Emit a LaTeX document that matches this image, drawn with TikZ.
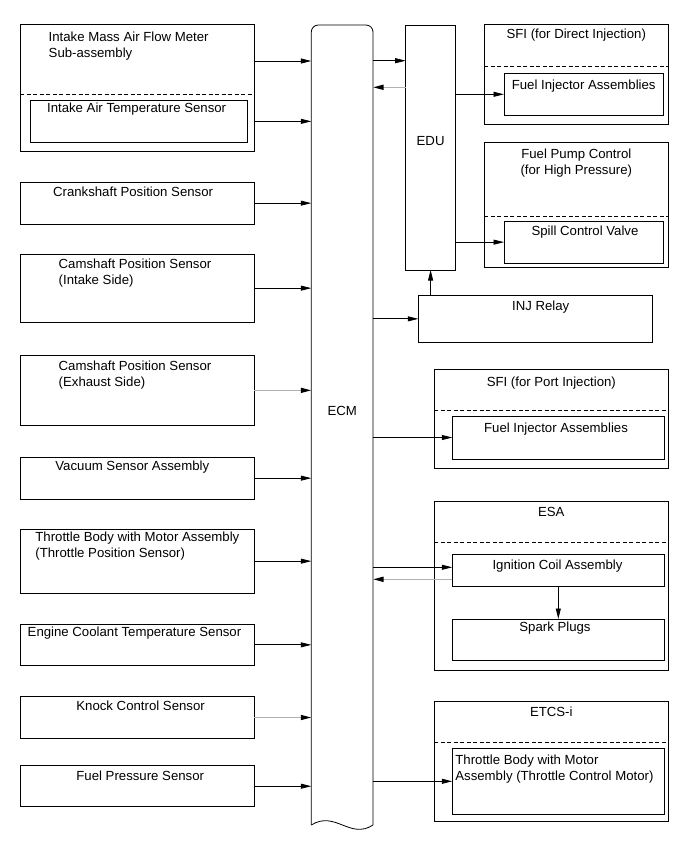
\documentclass[tikz,border=0pt]{standalone}
\usepackage{fontspec}
\setmainfont{Liberation Sans}
\usetikzlibrary{arrows.meta,positioning,calc}

\begin{document}
\begin{tikzpicture}[
    x=1pt, y=-1pt,
    font=\fontsize{13.2}{16}\selectfont,
    line width=0.8pt,
    box/.style={draw, anchor=north west, inner sep=0pt, outer sep=0pt},
    txt/.style={anchor=base west, inner sep=0pt, align=left},
    ctxt/.style={anchor=base, inner sep=0pt, align=center},
    sep/.style={dash pattern=on 4pt off 2.5pt, line width=0.7pt},
    flow/.style={-{Triangle[length=10.5pt,width=5pt]}},
    faint/.style={draw=black!30, line width=1.5pt, -{Triangle[length=10.5pt,width=5pt,color=black]}}
]
\useasboundingbox (0,0) rectangle (689,854);

% ECM
\node[anchor=north west, inner sep=0pt, outer sep=0pt, minimum width=61.7pt, minimum height=800pt] (ecm) at (311.3,25) {};
\draw[rounded corners=7pt] (ecm.south west) -- (ecm.north west) -- (ecm.north east) -- (ecm.south east);
\draw (ecm.south east) .. controls ($(ecm.south east)+(-23,15)$) and ($(ecm.south west)+(23.7,-15)$) .. (ecm.south west);
\node[ctxt] (ecm-t) at (342.2,415) {ECM};

% Sensors (left)
\node[box, minimum width=234.3pt, minimum height=127.4pt] (maf) at (20,24.3) {};
\draw[sep] ($(maf.north west)+(0,70)$) -- ($(maf.north east)+(0,70)$);
\node[box, minimum width=217.7pt, minimum height=42.7pt] (iat) at (30,100) {};
\node[box, minimum width=234.3pt, minimum height=41.7pt] (crank) at (20,182.3) {};
\node[box, minimum width=234.3pt, minimum height=68.3pt] (camin) at (20,254) {};
\node[box, minimum width=234.3pt, minimum height=69.3pt] (camex) at (20,355.7) {};
\node[box, minimum width=234.3pt, minimum height=41.7pt] (vac) at (20,457.3) {};
\node[box, minimum width=234.3pt, minimum height=64.3pt] (tps) at (20,529) {};
\node[box, minimum width=234.3pt, minimum height=41.7pt] (ect) at (20,624) {};
\node[box, minimum width=234.3pt, minimum height=41.6pt] (knk) at (20,696.7) {};
\node[box, minimum width=234.3pt, minimum height=41pt] (fps) at (20,765.7) {};

% multi-line labels are placed by their last baseline
\node[txt] (maf-t) at (48.3,57.7) {Intake Mass Air Flow Meter\\Sub-assembly};
\node[txt] (iat-t) at (46.7,112.7) {Intake Air Temperature Sensor};
\node[txt] (crank-t) at (52.7,196.7) {Crankshaft Position Sensor};
\node[txt] (camin-t) at (58.3,284.3) {Camshaft Position Sensor\\(Intake Side)};
\node[txt] (camex-t) at (58.3,386) {Camshaft Position Sensor\\(Exhaust Side)};
\node[txt] (vac-t) at (55,470) {Vacuum Sensor Assembly};
\node[txt] (tps-t) at (35,557.7) {Throttle Body with Motor Assembly\\(Throttle Position Sensor)};
\node[txt] (ect-t) at (27.3,636.7) {Engine Coolant Temperature Sensor};
\node[txt] (knk-t) at (76,710) {Knock Control Sensor};
\node[txt] (fps-t) at (76,780) {Fuel Pressure Sensor};

\coordinate (maf-o) at ($(maf.north east)+(0,36.7)$);
\draw[flow] (maf-o) -- (maf-o -| ecm.west);
\draw[flow] (iat.east -| maf.east) -- (iat.east -| ecm.west);
\draw[flow] (crank.east) -- (crank.east -| ecm.west);
\draw[flow] (camin.east) -- (camin.east -| ecm.west);
\draw[faint] (camex.east) -- (camex.east -| ecm.west);
\draw[flow] (vac.east) -- (vac.east -| ecm.west);
\draw[flow] (tps.east) -- (tps.east -| ecm.west);
\draw[flow] (ect.east) -- (ect.east -| ecm.west);
\draw[faint] (knk.east) -- (knk.east -| ecm.west);
\draw[flow] (fps.east) -- (fps.east -| ecm.west);

% EDU and injection
\node[box, minimum width=49.8pt, minimum height=245pt] (edu) at (405.7,25) {};
\node[ctxt] (edu-t) at (430.6,145) {EDU};
\node[box, minimum width=184pt, minimum height=100.4pt] (dsfi) at (484.3,24.3) {};
\draw[sep] ($(dsfi.north west)+(0,42.4)$) -- ($(dsfi.north east)+(0,42.4)$);
\node[box, minimum width=159.3pt, minimum height=42pt] (dinj) at (504,73.3) {};
\node[box, minimum width=184pt, minimum height=125.4pt] (fpc) at (484.3,142.3) {};
\draw[sep] ($(fpc.north west)+(0,73.7)$) -- ($(fpc.north east)+(0,73.7)$);
\node[box, minimum width=159.3pt, minimum height=42.3pt] (scv) at (504,221) {};
\node[box, minimum width=234pt, minimum height=47.7pt] (inj) at (418.3,295) {};

\node[ctxt] (dsfi-t) at (576.3,38.5) {SFI (for Direct Injection)};
\node[ctxt] (dinj-t) at (583.7,89) {Fuel Injector Assemblies};
\node[ctxt] (fpc-t) at (576.3,174) {Fuel Pump Control\\(for High Pressure)};
\node[ctxt] (scv-t) at (585,235) {Spill Control Valve};
\node[txt] (inj-t) at (511.7,310) {INJ Relay};

\coordinate (edu-in) at ($(edu.north west)+(0,35.7)$);
\coordinate (edu-out) at ($(edu.north west)+(0,62.3)$);
\draw[flow] (edu-in -| ecm.east) -- (edu-in);
\draw[faint] (edu-out) -- (edu-out -| ecm.east);
\draw[flow] (edu.east |- dinj.west) -- (dinj.west);
\draw[flow] (edu.east |- scv.west) -- (scv.west);
\draw[flow] (ecm.east |- inj.west) -- (inj.west);
\draw[flow] (edu.south |- inj.north) -- (edu.south);

% Port injection
\node[box, minimum width=234pt, minimum height=99pt] (psfi) at (434.3,369.3) {};
\draw[sep] ($(psfi.north west)+(0,41.4)$) -- ($(psfi.north east)+(0,41.4)$);
\node[box, minimum width=212pt, minimum height=43pt] (pinj) at (452.3,416) {};
\node[ctxt] (psfi-t) at (551.3,386.7) {SFI (for Port Injection)};
\node[ctxt] (pinj-t) at (556,432.7) {Fuel Injector Assemblies};
\draw[flow] (ecm.east |- pinj.west) -- (pinj.west);

% Ignition
\node[box, minimum width=234pt, minimum height=168.3pt] (esa) at (434.3,501.7) {};
\draw[sep] ($(esa.north west)+(0,40.6)$) -- ($(esa.north east)+(0,40.6)$);
\node[box, minimum width=212pt, minimum height=32.7pt] (ign) at (452.3,554) {};
\node[box, minimum width=212pt, minimum height=41pt] (spk) at (452.3,619) {};
\node[ctxt] (esa-t) at (551.3,516.7) {ESA};
\node[ctxt] (ign-t) at (557.5,569.3) {Ignition Coil Assembly};
\node[ctxt] (spk-t) at (555,631.7) {Spark Plugs};
\coordinate (ign-in) at ($(ign.north west)+(0,13.3)$);
\coordinate (ign-out) at ($(ign.north west)+(0,25.3)$);
\draw[flow] (ign-in -| ecm.east) -- (ign-in);
\draw[faint] (ign-out) -- (ign-out -| ecm.east);
\draw[flow] (ign.south) -- (spk.north);

% Throttle control
\node[box, minimum width=234pt, minimum height=119.3pt] (etcs) at (434.3,701.7) {};
\draw[sep] ($(etcs.north west)+(0,40.6)$) -- ($(etcs.north east)+(0,40.6)$);
\node[box, minimum width=212pt, minimum height=66pt] (tcm) at (452.3,748.3) {};
\node[ctxt] (etcs-t) at (551.3,716.7) {ETCS-i};
\node[txt] (tcm-t) at (455,780) {Throttle Body with Motor\\Assembly (Throttle Control Motor)};
\draw[flow] (ecm.east |- tcm.west) -- (tcm.west);

\end{tikzpicture}
\end{document}
